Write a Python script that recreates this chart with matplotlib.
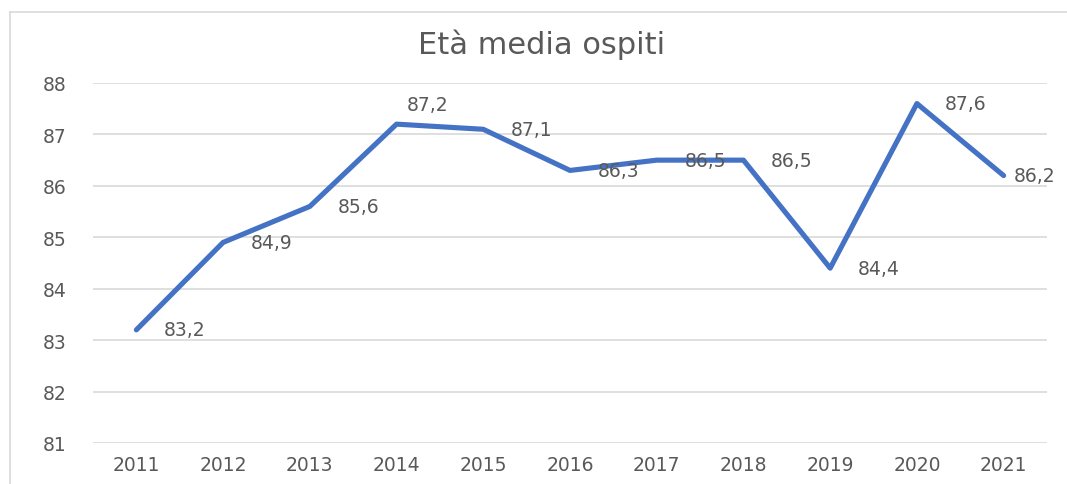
import matplotlib
matplotlib.use("Agg")
import matplotlib.pyplot as plt
from matplotlib.lines import Line2D

# data
years = ["2011", "2012", "2013", "2014", "2015", "2016", "2017", "2018", "2019", "2020", "2021"]
eta_media = [83.2, 84.9, 85.6, 87.2, 87.1, 86.3, 86.5, 86.5, 84.4, 87.6, 86.2]
yticks = [81, 82, 83, 84, 85, 86, 87, 88]

grey = "#595959"
grid = "#d9d9d9"
blue = "#4472c4"

# the reference text is wide, so use the wider DejaVu face
plt.rcParams["font.family"] = ["DejaVu Sans"]

fig = plt.figure(figsize=(10.67, 4.85), dpi=100)
ax = fig.add_axes([93 / 1067, 1 - 444 / 485, (1047 - 93) / 1067, (444 - 84) / 485])

x = list(range(len(years)))
ax.plot(x, eta_media, color=blue, lw=3.7, solid_joinstyle="round", solid_capstyle="round", zorder=3)

# data labels, right of the point (2014 moved up, last one pulled in)
for i, v in enumerate(eta_media):
    lab = f"{v:.1f}".replace(".", ",")
    off = (20, 0)
    if i == 3:
        off = (7, 14)
    elif i == len(eta_media) - 1:
        off = (7, 0)
    ax.annotate(lab, (i, v), xytext=off, textcoords="offset points",
                ha="left", va="center", fontsize=13.5, color=grey, zorder=4)

ax.set_xlim(-0.5, len(years) - 0.5)
ax.set_ylim(81, 88)
ax.set_xticks(x)
ax.set_xticklabels(years)
ax.set_yticks(yticks)
ax.tick_params(axis="both", length=0, labelsize=13.5, labelcolor=grey)
ax.tick_params(axis="y", pad=19)
ax.tick_params(axis="x", pad=9)
ax.grid(axis="y", color=grid, lw=1.2)
ax.set_axisbelow(True)
for s in ax.spines.values():
    s.set_visible(False)

fig.text(542 / 1067, 1 - 45 / 485, "Età media ospiti", ha="center", va="center",
         fontsize=22, color=grey)

# outer chart border, only top and left show
bx = 9.5 / 1067
by = 1 - 12.5 / 485
fig.add_artist(Line2D([bx, 1.0], [by, by], transform=fig.transFigure, color=grid, lw=1.2))
fig.add_artist(Line2D([bx, bx], [0.0, by], transform=fig.transFigure, color=grid, lw=1.2))

fig.savefig("out.png", dpi=100)
